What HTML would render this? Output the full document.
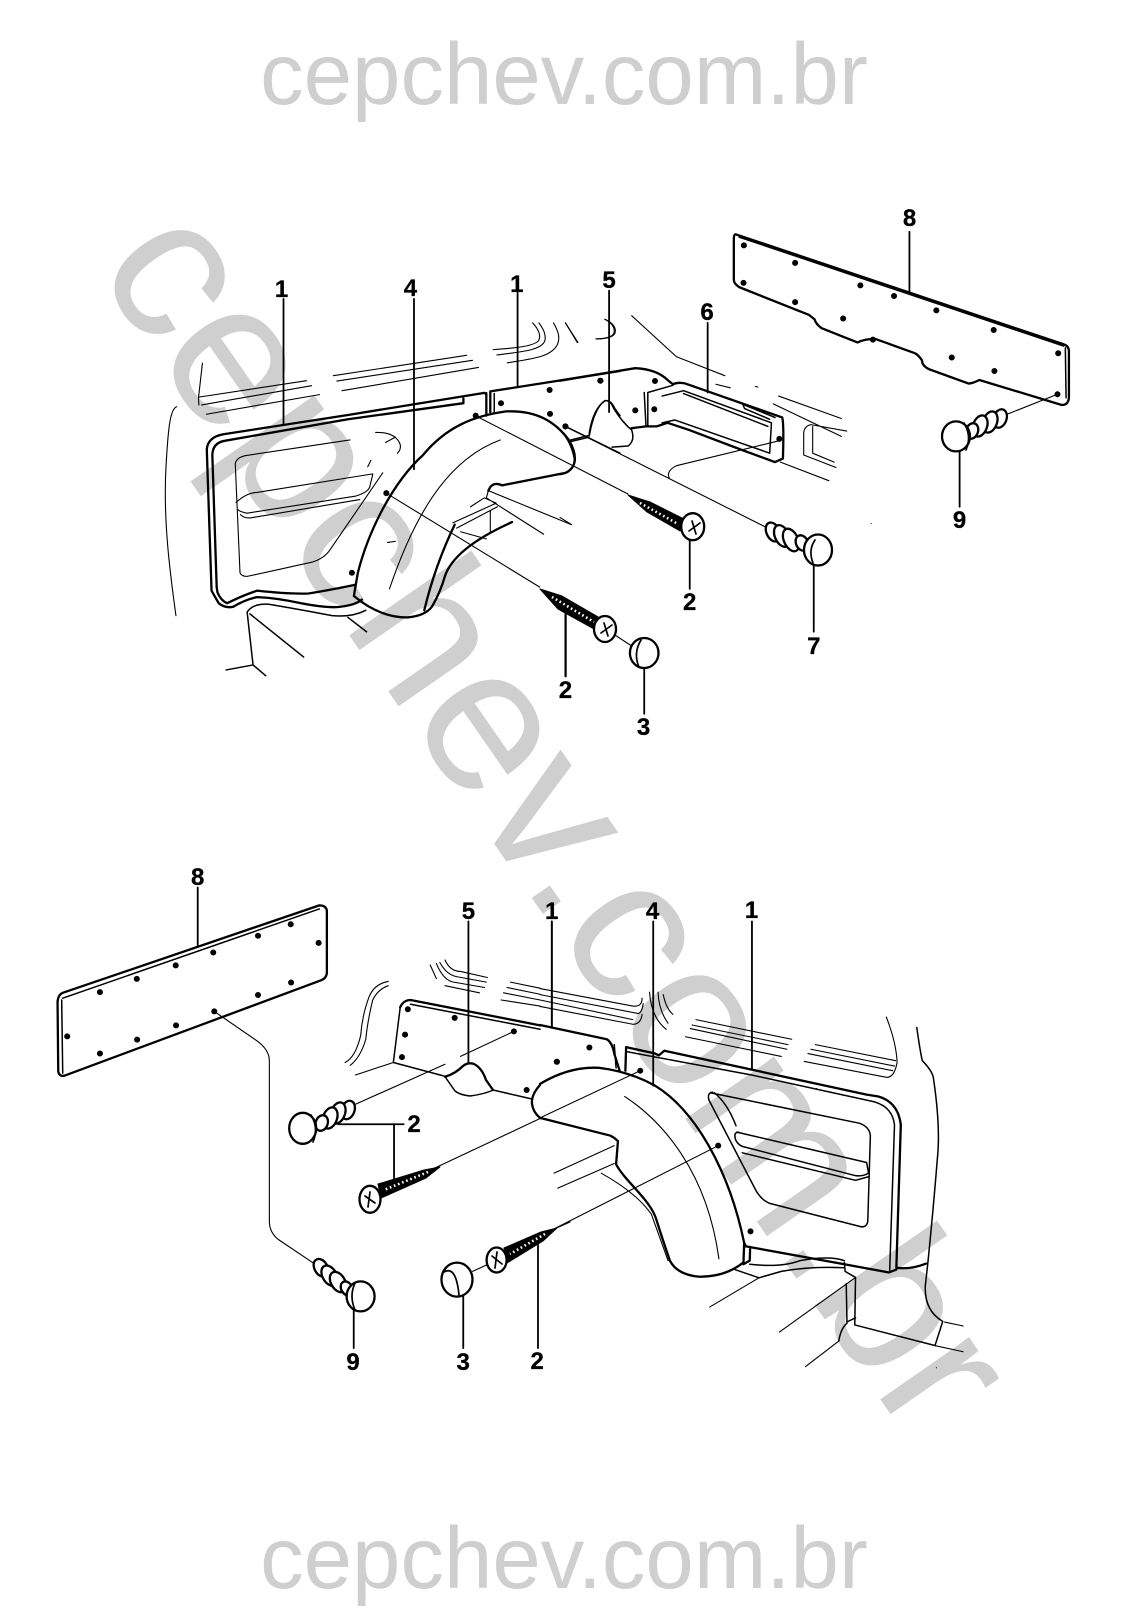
<!DOCTYPE html>
<html><head><meta charset="utf-8"><style>
html,body{margin:0;padding:0;background:#fff}
svg{display:block}
path,ellipse,line{vector-effect:non-scaling-stroke;fill:none;stroke:#000;stroke-linecap:round;stroke-linejoin:round}
.t{stroke-width:1.1}.m{stroke-width:1.5}.k{stroke-width:2.3}.l{stroke-width:1.8}
.d{stroke-width:6}
ellipse.h{fill:#fff;stroke-width:2.3}
path.b{fill:#000;stroke-width:1}
path.c{stroke-width:1.7}
path.wd{stroke:#fff;stroke-width:2.6;stroke-dasharray:1.6 2.8;stroke-linecap:butt}
text{font-family:"Liberation Sans",sans-serif}
.n{font-weight:bold;font-size:24px;text-anchor:middle;fill:#000;stroke:#000;stroke-width:.3}
.wm{fill:#cfcfcf}
</style></head><body>
<svg xmlns="http://www.w3.org/2000/svg" width="1122" height="1624" viewBox="0 0 1122 1624">
<rect width="1122" height="1624" fill="#fff"/>
<text class="wm" x="564" y="104" font-size="87" text-anchor="middle">cepchev.com.br</text>
<text class="wm" x="564" y="1588" font-size="87" text-anchor="middle">cepchev.com.br</text>
<text class="wm" font-size="205" transform="translate(94,268) rotate(55.2)">cepchev.com.br</text>

<!-- top left -->
<g transform="translate(0,180) scale(.3954,.3571)">
<path class="t" d="M512 513L502 610L503 630M503 608L775 562M510 630L788 576M522 656L808 601M843 548L1180 491M852 563L1195 505M865 590L1210 525"/>
<path class="t" d="M1247 475C1310 470 1350 465 1362 450C1370 435 1360 415 1347 400M1257 490C1330 480 1370 475 1378 450C1382 430 1372 415 1363 400M1283 512C1350 500 1395 495 1410 460C1418 440 1410 420 1400 400M1430 400L1460 455M1530 390C1550 400 1560 415 1555 430C1550 440 1530 445 1508 445"/>
<path class="t" d="M447 635C430 640 425 700 420 800C412 950 430 1100 445 1220"/>
<path class="k" d="M1230 600L1225 596L880 658L565 712Q525 720 523 755L535 1150L553 1185Q570 1200 590 1195Q620 1175 650 1168Q700 1170 760 1185Q830 1200 860 1195Q900 1190 915 1175"/>
<path class="k" d="M1172 625L880 670L570 730Q538 735 537 770L548 1140L550 1155Q560 1180 575 1185Q610 1165 650 1150Q730 1160 780 1158Q850 1145 900 1133M1172 612L1172 625"/>
<path class="m" d="M625 1210Q640 1185 680 1188Q770 1205 840 1220Q890 1225 925 1205M625 1210L640 1358L572 1372M640 1358L672 1388M632 1215L768 1336M880 1225L927 1265"/>
<path class="t" d="M885 728L620 772Q597 778 595 795L607 1100Q610 1110 625 1110L790 1070Q820 1060 835 1035L968 820M597 903Q625 875 650 875L943 823L935 860Q930 875 900 885L625 933Q608 930 600 922M608 937Q620 950 640 945L910 895M950 707Q1000 705 1012 740Q1015 755 1005 765M975 735L1000 720M938 785L930 803"/>
<path class="k" d="M895 1165L905 1100C930 990 990 850 1070 770C1130 690 1200 660 1280 648C1350 645 1400 670 1440 730C1460 770 1460 805 1430 820L1270 855Q1250 845 1240 860L1235 870M895 1165Q960 1225 1030 1225Q1080 1220 1095 1190Q1115 1150 1125 1110C1140 1060 1190 1010 1295 958M895 1165L900 1130"/>
<path class="t" d="M1265 728C1150 775 1060 900 985 1145M980 1015L1000 1012M1235 870L1445 965M1230 890L1375 992M1235 870L1230 890M1145 960L1255 905L1225 890L1190 915M1155 975L1258 915M1240 925V990M1165 985L1230 1005"/>
<path class="k" d="M1073 1205Q1100 1080 1150 965"/>
<path class="k" d="M1240 592L1568 535M1230 597L1230 660M1240 592L1240 650"/>
<path class="m" d="M1250 598L1250 650M1490 710Q1500 640 1530 618Q1545 615 1555 640L1568 660M1445 732L1490 720M1430 690L1568 765"/>
<path class="t" d="M977 877L1365 1140"/>
<path class="l" d="M717 333V685M1047 333V810M1309 315V578M1431 1210V1390"/>
<path class="d" d="M890 1100h.1M977 877h.1M1203 660h.1M1267 625h.1M1390 588h.1M1391 655h.1M1430 690h.1M1518 562h.1"/>
</g>
<line class="t" x1="476" y1="416" x2="628" y2="494"/>

<!-- top right -->
<g transform="translate(560,180) scale(.3584,.3571)">
<path class="k" d="M0 562L100 545L210 527Q270 530 300 560L315 572Q330 565 350 570L620 665Q625 680 622 780L600 790L505 755L360 700L300 680L270 690L240 690L200 695"/>
<path class="m" d="M235 595L240 690M245 595V690M245 595L315 575"/>
<path class="m" d="M285 605L345 590L590 680L585 765L320 672L285 680M345 598L580 690M510 628L600 665M510 628L515 640L585 670"/>
<path class="m" d="M82 715Q95 640 125 618Q140 615 150 640Q175 680 200 700Q210 730 190 745L145 748M82 715L30 728M0 700Q30 730 40 780Q40 820 0 825"/>
<path class="t" d="M612 730L325 800Q295 815 305 835M15 690L580 975M200 380L325 495L460 548M435 572L475 582M545 578L552 580M610 605L785 668M595 627L785 718M615 790L750 842M800 703L700 685Q680 690 680 710L680 770L770 805M705 690L705 765L765 790M0 945L32 965M15 400L50 455M125 390C145 400 155 415 150 430C145 440 125 445 100 445"/>
<path class="d" d="M113 562h.1M265 563h.1M210 645h.1M263 642h.1M612 725h.1M15 690h.1"/>
<path class="l" d="M137 310V650M412 400V595M975 145V312M1115 760V915M708 1080V1265M362 1010V1145M235 1370V1495M15 1210V1390"/>
<path class="k" d="M490 152L1405 460Q1420 465 1420 480L1420 610Q1418 630 1400 630L1170 560Q1150 570 1140 570L1030 530Q1010 520 1010 505Q1000 490 990 485L880 445Q850 445 830 455L730 415Q715 405 710 390L695 378L500 300Q485 290 485 280L485 165Q485 152 490 152Z"/>
<path class="m" d="M500 160L1405 465M1410 470L1412 610"/>
<path class="d" d="M513 183h.1M512 288h.1M656 232h.1M656 342h.1M838 295h.1M790 388h.1M932 325h.1M873 447h.1M1050 365h.1M1093 497h.1M1210 420h.1M1212 535h.1M1390 485h.1M1388 600h.1"/>
<path class="t" d="M1388 600L1250 655M868 962h.1M150 1272L200 1305"/>
</g>

<!-- bottom left -->
<g transform="translate(30,850) scale(.3444,.3571)">
<path class="k" d="M95 400L840 155Q860 155 862 170L862 345Q860 360 845 365L100 632Q85 635 82 620L80 425Q82 405 95 400Z"/>
<path class="m" d="M95 415L840 165M92 420L95 625"/>
<path class="d" d="M203 398h.1M310 361h.1M423 323h.1M532 287h.1M662 240h.1M757 208h.1M838 260h.1M108 522h.1M203 570h.1M311 531h.1M424 491h.1M535 452h.1M662 406h.1M758 371h.1M1097 446h.1M1233 470h.1M1089 517h.1M1080 580h.1M1442 672h.1M1530 593h.1M1405 508h.1"/>
<path class="t" d="M535 452L660 535Q695 560 695 590L695 1040Q695 1070 720 1090L825 1158M945 712L1205 600M1250 578L1405 508M1170 893L1481 752M1285 1180L1335 1158"/>
<path class="l" d="M487 105V268M940 1290V1395M1258 1250V1395M1475 1105V1395M1273 200V595M1515 200V498M895 768L1085 768M1057 768V930"/>
<path class="k" d="M1075 440Q1085 420 1105 420L1481 491"/>
<path class="m" d="M1105 432L1481 502M1075 440L1055 595M1055 595L1210 635"/>
<path class="t" d="M1055 595L945 630M1040 368Q1000 375 985 410Q965 460 960 520Q945 580 915 595M1040 380Q1010 390 995 420Q980 480 975 530Q960 580 930 603M1162 322L1180 360M1180 318Q1200 365 1230 370L1320 385M1190 315Q1210 350 1240 355L1325 370M1205 308Q1220 340 1250 340L1328 357M1205 380L1305 400M1395 370L1481 387M1385 385L1481 404M1375 400L1481 420M1368 420L1481 437"/>
</g>

<!-- bottom right -->
<g transform="translate(540,850) scale(.3712,.3571)">
<path class="t" d="M0 388L250 437Q275 440 275 415M0 405L265 458Q275 455 278 430M0 420L250 475M0 438L250 488Q272 488 275 460M295 398Q300 470 340 502M318 398Q320 450 345 485M332 405Q340 445 358 460"/>
<path class="t" d="M420 475L678 530M410 490L668 545M405 500L665 558M392 523L650 578M742 545L958 590M730 558L955 605M722 570L950 618M712 592L935 637Q955 635 962 595Q960 540 933 468"/>
<path class="m" d="M1015 497Q1025 570 1030 590Q1058 620 1060 640Q1080 780 1070 870Q1060 1000 1045 1155L1038 1220Q1035 1290 1085 1320L1065 1385"/>
<path class="t" d="M1090 1322L1140 1333M1065 1388L1140 1405"/>
<path class="k" d="M0 490L180 530Q195 540 200 570L215 620M232 552L230 618M232 552L310 570L320 575L335 562L880 685L910 690Q965 705 972 770L960 1170Q1000 1175 1040 1158"/>
<path class="m" d="M200 545L205 610M235 565L570 630L900 705Q950 720 955 770L942 1180"/>
<path class="k" d="M0 655Q80 605 160 610Q240 620 310 660C420 730 510 900 550 1100L555 1110L820 1160L940 1183L960 1175M550 1100L548 1160L565 1150L566 1118"/>
<path class="k" d="M548 1155Q500 1195 430 1195Q370 1190 350 1150Q330 1090 315 1040C300 980 230 930 205 880L210 815Q200 805 190 800L0 750"/>
<path class="t" d="M228 690C330 760 450 900 482 1145M200 828L38 905M200 878L48 947M165 905Q260 960 300 1020L345 1150"/>
<path class="m" d="M460 680L860 765Q888 775 890 800L883 1040Q880 1057 865 1055L620 990Q595 980 580 950L455 700Q450 680 465 678M470 680Q505 710 528 772M530 790L880 875L885 905Q870 915 850 912L545 830Q525 820 525 800Q525 790 535 790M545 848L850 925L885 915"/>
<path class="m" d="M525 1175L590 1198L650 1180Q730 1165 820 1170M565 1160Q650 1170 700 1150Q780 1135 820 1150M820 1155L822 1180L850 1197L848 1330L1065 1388"/>
<path class="m" d="M825 1215L827 1325Q810 1340 805 1375M830 1320L850 1310"/>
<path class="t" d="M590 1198L457 1280M850 1197L645 1350M805 1375L715 1447"/>
<path class="d" d="M270 618h.1M480 828h.1M567 1068h.1M45 593h.1M133 553h.1"/>
<path class="t" d="M480 828L40 1060M270 618L0 750M1068 1450h.1M745 668h.1"/>
<path class="l" d="M32 200V495M305 200V660M571 200V615"/>
</g>

<path class="k" d="M445 1076.7Q455 1074 463 1066Q468 1062 474 1064Q482 1068 486 1080L493 1090"/>
<path class="m" d="M493 1090L532 1099M445 1076.7L455 1091Q460 1095 470 1096Q485 1094 493 1090"/>
<path class="k" d="M540 1085Q531 1095 532 1104Q533 1112 540 1118"/>

<!-- fasteners, top -->
<g>
<ellipse class="h" cx="1000" cy="418.5" rx="6.5" ry="9.5" transform="rotate(20 1000 418.5)"/>
<ellipse class="h" cx="990" cy="422" rx="7" ry="11" transform="rotate(20 990 422)"/>
<ellipse class="h" cx="980" cy="426" rx="7" ry="11" transform="rotate(20 980 426)"/>
<ellipse class="h" cx="972" cy="431" rx="6" ry="8" transform="rotate(20 972 431)"/>
<ellipse class="h" cx="956" cy="436.4" rx="14" ry="15"/>
<path class="c" d="M964 423Q972 436 966 450"/>
<ellipse class="h" cx="773" cy="532" rx="6.5" ry="10" transform="rotate(-25 773 532)"/>
<ellipse class="h" cx="782" cy="536" rx="7" ry="11.5" transform="rotate(-25 782 536)"/>
<ellipse class="h" cx="791" cy="540" rx="7" ry="12" transform="rotate(-25 791 540)"/>
<ellipse class="h" cx="802" cy="543" rx="6" ry="8" transform="rotate(-25 802 543)"/>
<ellipse class="h" cx="818" cy="550" rx="14" ry="15.5"/>
<path class="c" d="M815 540Q808 550 813 563"/>
<path class="b" d="M628 495L650 502L684 519L680 531L647 512Z"/>
<path class="wd" d="M640 503L678 524"/>
<ellipse class="h" cx="692.7" cy="526.7" rx="11.5" ry="13.5"/>
<path class="c" d="M689 531L700 523M692 521L696 534"/>
<path class="b" d="M540 589L562 596L600 618L596 630L558 609Z"/>
<path class="wd" d="M552 597L594 622"/>
<ellipse class="h" cx="605" cy="629" rx="11" ry="13"/>
<path class="c" d="M601 633L612 625M604 623L608 636"/>
<ellipse class="h" cx="644.2" cy="653" rx="14.3" ry="15"/>
<path class="c" d="M641 640Q633 653 639 667"/>
</g>

<!-- fasteners, bottom -->
<g>
<ellipse class="h" cx="348" cy="1110" rx="6.5" ry="9.5" transform="rotate(20 348 1110)"/>
<ellipse class="h" cx="338" cy="1113" rx="7" ry="11" transform="rotate(20 338 1113)"/>
<ellipse class="h" cx="330" cy="1118" rx="7" ry="11" transform="rotate(20 330 1118)"/>
<ellipse class="h" cx="321.7" cy="1123" rx="6" ry="8" transform="rotate(20 321.7 1123)"/>
<ellipse class="h" cx="302.7" cy="1128.3" rx="13.5" ry="15.5"/>
<path class="c" d="M311 1115Q319 1128 313 1142"/>
<ellipse class="h" cx="321" cy="1267.8" rx="6.5" ry="9.5" transform="rotate(-30 321 1267.8)"/>
<ellipse class="h" cx="329.6" cy="1275.7" rx="7" ry="11" transform="rotate(-30 329.6 1275.7)"/>
<ellipse class="h" cx="338" cy="1282" rx="7" ry="11" transform="rotate(-30 338 1282)"/>
<ellipse class="h" cx="346.8" cy="1288.5" rx="5.5" ry="7.5" transform="rotate(-30 346.8 1288.5)"/>
<ellipse class="h" cx="360.6" cy="1296.4" rx="14" ry="15"/>
<path class="c" d="M355 1283Q349 1296 355 1310"/>
<path class="b" d="M440 1167L424 1170L378 1184L381 1198L426 1178Z"/>
<path class="wd" d="M428 1172L384 1190"/>
<ellipse class="h" cx="370" cy="1199.3" rx="10.5" ry="13.5"/>
<path class="c" d="M365 1196L375 1203M370 1192L368 1207"/>
<path class="b" d="M557 1228L541 1232L504 1248L507 1263L543 1241Z"/>
<path class="wd" d="M545 1234L510 1254"/>
<ellipse class="h" cx="496.6" cy="1260" rx="10" ry="12.5"/>
<path class="c" d="M492 1256L502 1264M497 1252L495 1268"/>
<line class="t" x1="552" y1="1230" x2="570" y2="1222"/>
<ellipse class="h" cx="457" cy="1279.6" rx="15.5" ry="17"/>
<path class="c" d="M444 1272Q456 1265 459 1295"/>
</g>

<g>
<text class="n" x="281.5" y="297">1</text>
<text class="n" x="410.4" y="296">4</text>
<text class="n" x="516.8" y="292">1</text>
<text class="n" x="609" y="288">5</text>
<text class="n" x="565.4" y="698">2</text>
<text class="n" x="707" y="320">6</text>
<text class="n" x="909.5" y="226">8</text>
<text class="n" x="689.7" y="610">2</text>
<text class="n" x="813.8" y="654">7</text>
<text class="n" x="643.5" y="735">3</text>
<text class="n" x="959.6" y="528">9</text>
<text class="n" x="197.7" y="885">8</text>
<text class="n" x="468.4" y="919">5</text>
<text class="n" x="551.7" y="919">1</text>
<text class="n" x="414" y="1132">2</text>
<text class="n" x="353" y="1370">9</text>
<text class="n" x="463.2" y="1370">3</text>
<text class="n" x="537.2" y="1369">2</text>
<text class="n" x="652.5" y="919">4</text>
<text class="n" x="751.6" y="918">1</text>
</g>
</svg>
</body></html>
